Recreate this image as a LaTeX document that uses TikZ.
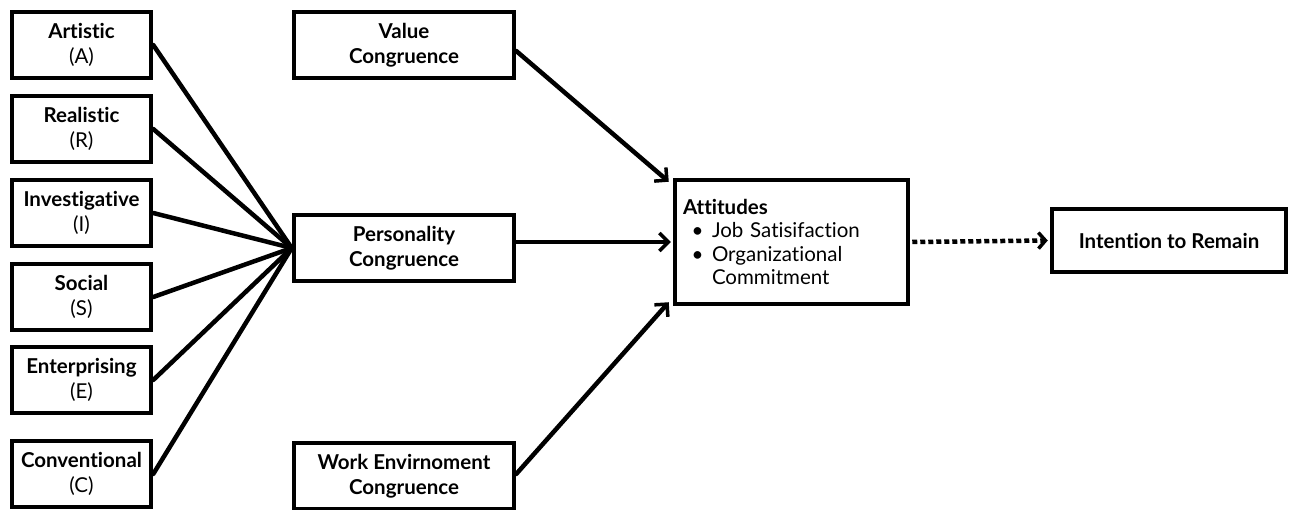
\documentclass[tikz,border=0pt]{standalone}
\usepackage{fontspec}
\setmainfont{Lato}[Ligatures={NoCommon}]
\usetikzlibrary{arrows.meta}
\begin{document}
\begin{tikzpicture}[x=1pt,y=-1pt,
  box/.style={draw=black,line width=4.5pt,rectangle,inner sep=2pt,align=center,
    font=\fontsize{20.5}{25}\selectfont},
  typebox/.style={box,minimum width=139pt,minimum height=66pt},
  congbox/.style={box,minimum width=220pt,minimum height=66pt,font=\fontsize{20.5}{25}\selectfont\bfseries},
  link/.style={line width=4.5pt,line cap=round},
  arrow/.style={link,-{Straight Barb[length=9pt,width=18pt,line width=3.5pt]}},
  dotarrow/.style={line width=4.5pt,dash pattern=on 5pt off 3pt,-{Straight Barb[length=7pt,width=16pt,line width=3.5pt]}}
]
\useasboundingbox (0,0) rectangle (1298,510);

% RIASEC personality types
\node[typebox] (art) at (81.5,45)  {\textbf{Artistic}\\(A)};
\node[typebox] (rea) at (81.5,129) {\textbf{Realistic}\\(R)};
\node[typebox] (inv) at (81.5,213) {\textbf{Investigative}\\(I)};
\node[typebox] (soc) at (81.5,297) {\textbf{Social}\\(S)};
\node[typebox] (ent) at (81.5,380) {\textbf{Enterprising}\\(E)};
\node[typebox] (con) at (81.5,474) {\textbf{Conventional}\\(C)};

% congruence constructs
\node[congbox] (val)  at (404,45)  {Value\\Congruence};
\node[congbox] (pers) at (404,248) {Personality\\Congruence};
\node[congbox] (work) at (404,476) {Work Envirnoment\\Congruence};

% outcomes
\node[box,minimum width=233pt,minimum height=124pt,text width=217pt,inner xsep=8pt,align=left,
      font=\fontsize{20.5}{23.5}\selectfont] (att) at (791.5,242)
  {\textbf{Attitudes}\\
   \makebox[29pt][c]{\textbullet}Job Satisifaction\\
   \makebox[29pt][c]{\textbullet}Organizational\\
   \hspace*{29pt}Commitment};
\node[box,minimum width=234pt,minimum height=63pt,font=\fontsize{20.5}{25}\selectfont\bfseries] (int) at (1169,240.5)
  {Intention to Remain};

% types feed personality congruence
\foreach \t in {art,rea,inv,soc,ent,con}
  \draw[link] (\t.east) -- (pers.west);

% congruence to attitudes
\draw[arrow] ([yshift=-6pt]val.east) -- ([xshift=-4pt,yshift=-4pt]att.north west);
\draw[arrow] (pers.east |- att.west) -- ([xshift=-2pt]att.west);
\draw[arrow] ([yshift=2pt]work.east) -- ([xshift=-4pt,yshift=4pt]att.south west);

% attitudes to intention
\draw[dotarrow] ([xshift=2pt]att.east) -- ([xshift=-2pt]int.west);
\end{tikzpicture}
\end{document}
